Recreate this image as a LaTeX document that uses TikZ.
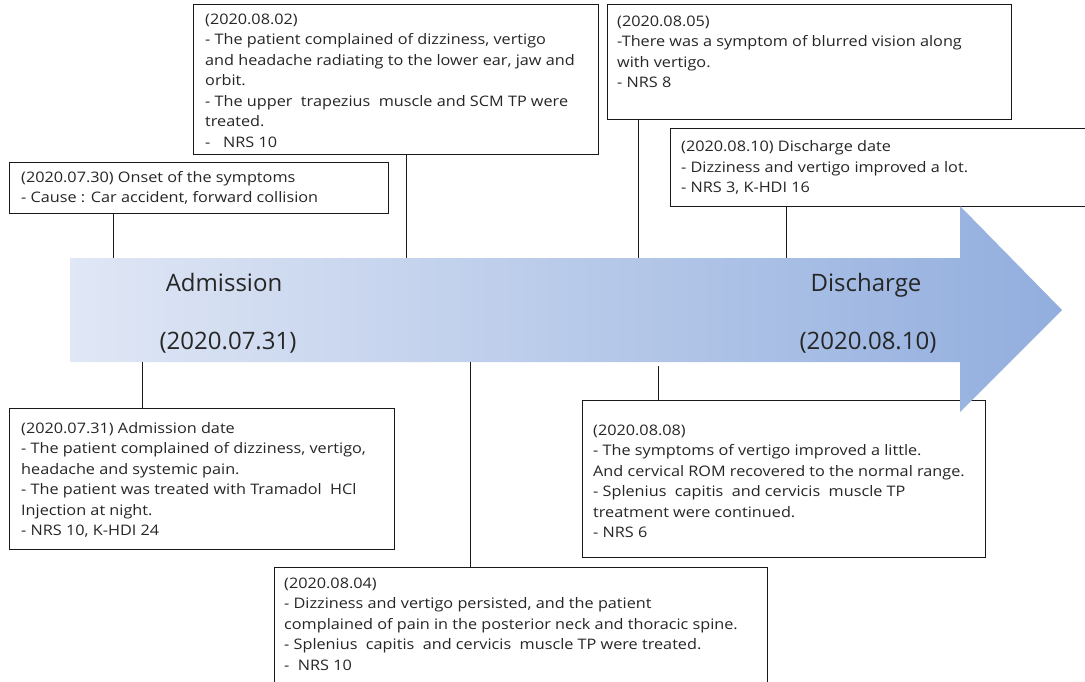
\documentclass[tikz,border=0pt]{standalone}
\usepackage{fontspec}
\setmainfont{Open Sans}
\newfontfamily\boxfont[FakeStretch=1.12]{Open Sans}
\begin{document}
\begin{tikzpicture}[x=1pt,y=-1pt,
  box/.style={draw=black!90, line width=1pt, fill=white, anchor=north west, inner sep=0pt},
  txt/.style={anchor=base west, inner sep=0pt, align=left, font=\boxfont\fontsize{14.5}{20.5}\selectfont, text=black!85},
  big/.style={anchor=base, font=\fontsize{24}{28}\selectfont, text=black!85},
  conn/.style={draw=black!90, line width=1pt}]
\useasboundingbox (0,0) rectangle (1085,681);
% boxes (text anchored at the baseline of its last line)
\node[box, minimum width=379pt, minimum height=51pt] (onset) at (9,162) {};
\node[txt] (tonset) at (21,202.5) {(2020.07.30) Onset of the symptoms\\- Cause : Car accident, forward collision};
\node[box, minimum width=405pt, minimum height=150pt] (b0802) at (193,4) {};
\node[txt] (t0802) at (205,147) {(2020.08.02)\\- The patient complained of dizziness, vertigo\\and headache radiating to the lower ear, jaw and\\orbit.\\- The upper\ \ trapezius\ \ muscle and SCM TP were\\treated.\\-\ \ \ NRS 10};
\node[box, minimum width=404pt, minimum height=115pt] (b0805) at (607,4) {};
\node[txt] (t0805) at (617,87.5) {(2020.08.05)\\-There was a symptom of blurred vision along\\with vertigo.\\- NRS 8};
\node[box, minimum width=425pt, minimum height=78pt] (b0810) at (670,128) {};
\node[txt] (t0810) at (681,192.5) {(2020.08.10) Discharge date\\- Dizziness and vertigo improved a lot.\\- NRS 3, K-HDI 16};
\node[box, minimum width=385pt, minimum height=141pt] (b0731) at (9,408) {};
\node[txt] (t0731) at (21,535.5) {(2020.07.31) Admission date\\- The patient complained of dizziness, vertigo,\\headache and systemic pain.\\- The patient was treated with Tramadol\ \ HCl\\Injection at night.\\- NRS 10, K-HDI 24};
\node[box, minimum width=493pt, minimum height=120pt] (b0804) at (274,567) {};
\node[txt] (t0804) at (284,670) {(2020.08.04)\\- Dizziness and vertigo persisted, and the patient\\complained of pain in the posterior neck and thoracic spine.\\- Splenius\ \ capitis\ \ and cervicis\ \ muscle TP were treated.\\-\ \ NRS 10};
\node[box, minimum width=403pt, minimum height=157pt] (b0808) at (582,400) {};
\node[txt] (t0808) at (593,537.5) {(2020.08.08)\\- The symptoms of vertigo improved a little.\\And cervical ROM recovered to the normal range.\\- Splenius\ \ capitis\ \ and cervicis\ \ muscle TP\\treatment were continued.\\- NRS 6};
% arrow
\shade[left color={rgb,255:red,224;green,231;blue,245}, right color={rgb,255:red,146;green,174;blue,222}]
  (70,258) -- (960,258) -- (960,206) -- (1062,310) -- (960,412) -- (960,362) -- (70,362) -- cycle;
\node[big] (adm) at (224,291) {Admission};
\node[big] (admd) at (228,349) {(2020.07.31)};
\node[big] (dis) at (866,291) {Discharge};
\node[big] (disd) at (868,349) {(2020.08.10)};
% connection points on the arrow
\coordinate (p1) at (113,258);
\coordinate (p2) at (406,258);
\coordinate (p3) at (638,258);
\coordinate (p4) at (786,258);
\coordinate (q1) at (142,362);
\coordinate (q2) at (470,362);
\coordinate (q3) at (658,366);
\draw[conn] (onset.south -| p1) -- (p1);
\draw[conn] (b0802.south -| p2) -- (p2);
\draw[conn] (b0805.south -| p3) -- (p3);
\draw[conn] (b0810.south -| p4) -- (p4);
\draw[conn] (q1) -- (b0731.north -| q1);
\draw[conn] (q2) -- (b0804.north -| q2);
\draw[conn] (q3) -- (b0808.north -| q3);
\end{tikzpicture}
\end{document}
